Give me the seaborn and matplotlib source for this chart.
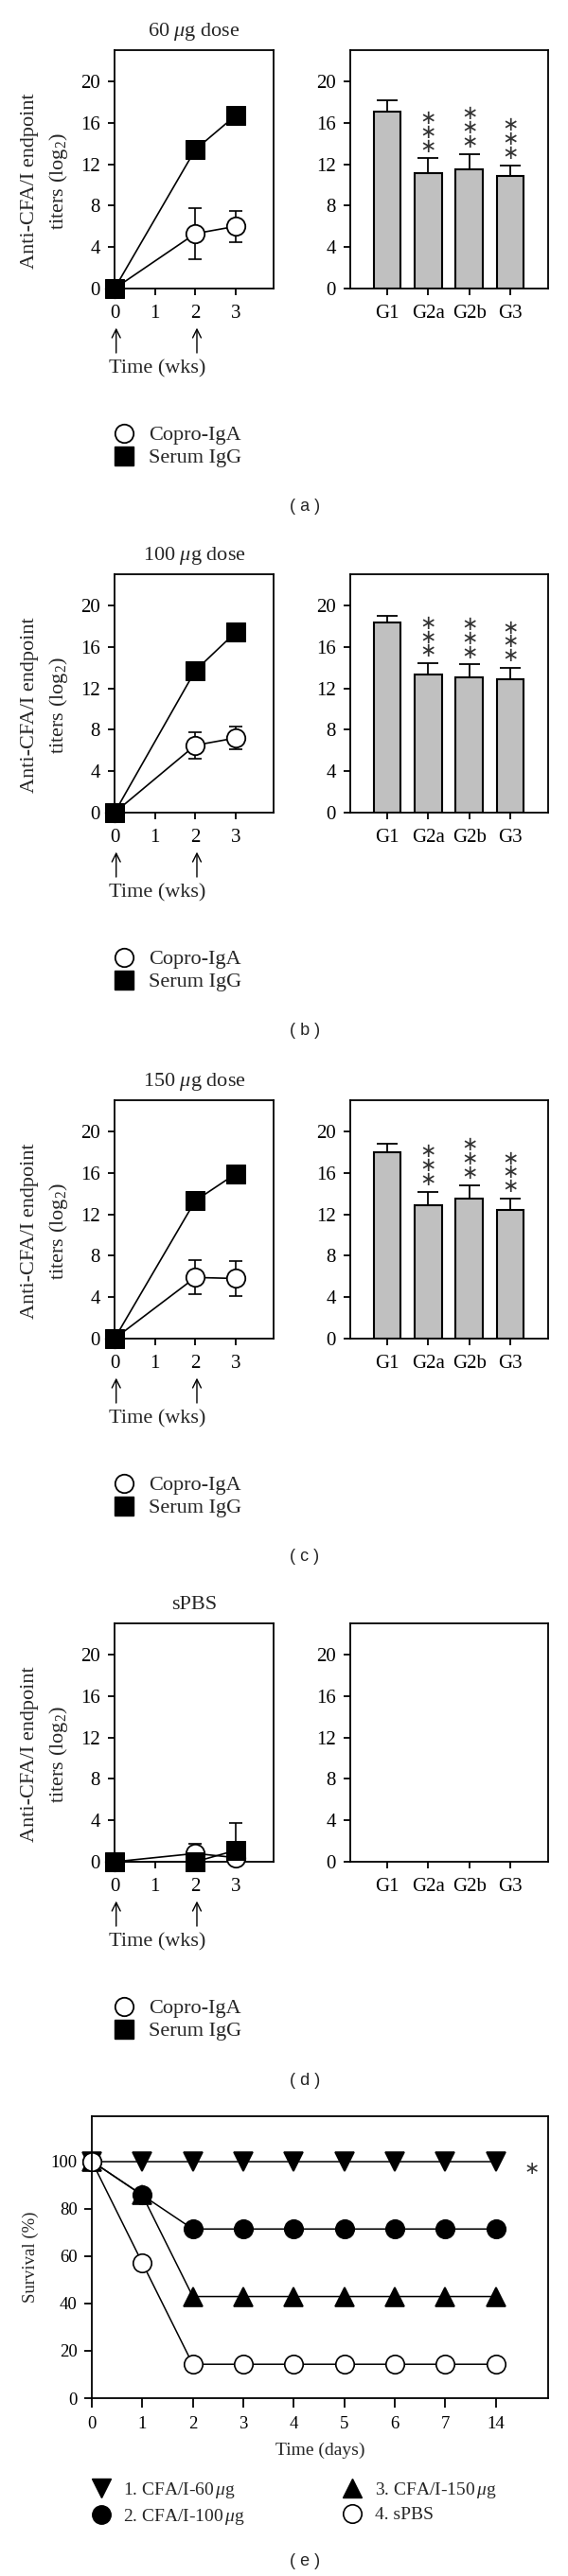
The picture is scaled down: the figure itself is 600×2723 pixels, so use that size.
import numpy as np
import pandas as pd
import seaborn as sns
from matplotlib import pyplot as plt
from matplotlib.lines import Line2D

## DATA ##
weeks = [0, 2, 3]
boost_weeks = [0, 2]
dose_titles = ['60 $\\mu$g dose', '100 $\\mu$g dose', '150 $\\mu$g dose', 'sPBS']
panel_tags = ['( a )', '( b )', '( c )', '( d )']

copro_mean = [[0, 5.3, 6.0], [0, 6.5, 7.2], [0, 5.9, 5.8], [0, 0.8, 0.4]]
copro_err = [[0, 2.5, 1.5], [0, 1.3, 1.1], [0, 1.65, 1.65], [0, 0.9, 0.5]]
serum_mean = [[0, 13.4, 16.7], [0, 13.7, 17.4], [0, 13.3, 15.9], [0, 0, 1.1]]
serum_err = [[0, 0, 0], [0, 0, 0], [0, 0, 0], [0, 0, 2.6]]

groups = ['G1', 'G2a', 'G2b', 'G3']
bar_mean = [[17.1, 11.1, 11.5, 10.9], [18.3, 13.3, 13.05, 12.9],
            [18.0, 12.85, 13.55, 12.4], None]
bar_err = [[1.1, 1.45, 1.5, 1.0], [0.65, 1.1, 1.25, 1.05],
           [0.8, 1.3, 1.25, 1.1], None]
stars = ['', '***', '***', '***']

days = ['0', '1', '2', '3', '4', '5', '6', '7', '14']
surv_60 = [100, 100, 100, 100, 100, 100, 100, 100, 100]
surv_100 = [100, 85.7, 71.4, 71.4, 71.4, 71.4, 71.4, 71.4, 71.4]
surv_150 = [100, 85.7, 42.9, 42.9, 42.9, 42.9, 42.9, 42.9, 42.9]
surv_pbs = [100, 57.1, 14.3, 14.3, 14.3, 14.3, 14.3, 14.3, 14.3]
surv_labels = ['1. CFA/I-60$\\,\\mu$g', '2. CFA/I-100$\\,\\mu$g',
               '3. CFA/I-150$\\,\\mu$g', '4. sPBS']

## SETTINGS ##
sns.set_theme(style='ticks')
plt.rcParams['font.family'] = ['Liberation Serif', 'DejaVu Serif']
plt.rcParams['mathtext.fontset'] = 'custom'
plt.rcParams['mathtext.rm'] = 'Liberation Serif'
plt.rcParams['mathtext.it'] = 'Liberation Serif:italic'
plt.rcParams['axes.linewidth'] = 1.3
plt.rcParams['axes.edgecolor'] = 'black'
plt.rcParams['xtick.color'] = 'black'
plt.rcParams['ytick.color'] = 'black'
plt.rcParams['xtick.major.width'] = 1.3
plt.rcParams['ytick.major.width'] = 1.3
plt.rcParams['xtick.major.size'] = 5
plt.rcParams['ytick.major.size'] = 5
plt.rcParams['xtick.major.pad'] = 7
plt.rcParams['ytick.major.pad'] = 6

W, H = 600, 2723
fig = plt.figure(figsize=(W / 100, H / 100), dpi=100)


def px_rect(x0, y0, x1, y1):
    return [x0 / W, 1 - y1 / H, (x1 - x0) / W, (y1 - y0) / H]


panel_offsets = [0, 554, 1110, 1663]
FS = 16
TS = 15

for i, off in enumerate(panel_offsets):
    axL = fig.add_axes(px_rect(121, 53 + off, 289, 305 + off))
    axR = fig.add_axes(px_rect(370, 53 + off, 579, 305 + off))

    # time course
    df_c = pd.DataFrame({'week': weeks, 'titer': copro_mean[i]})
    df_s = pd.DataFrame({'week': weeks, 'titer': serum_mean[i]})
    axL.errorbar(weeks, copro_mean[i], yerr=copro_err[i], fmt='none',
                 ecolor='black', elinewidth=1.2, capsize=5, capthick=1.2, zorder=2)
    axL.errorbar(weeks, serum_mean[i], yerr=serum_err[i], fmt='none',
                 ecolor='black', elinewidth=1.2, capsize=5, capthick=1.2, zorder=2)
    sns.lineplot(data=df_c, x='week', y='titer', ax=axL, color='black', lw=1.2,
                 marker='o', markersize=14, markerfacecolor='white',
                 markeredgecolor='black', markeredgewidth=1.3, clip_on=False, zorder=3)
    sns.lineplot(data=df_s, x='week', y='titer', ax=axL, color='black', lw=1.2,
                 marker='s', markersize=14, markerfacecolor='black',
                 markeredgecolor='black', clip_on=False, zorder=4)
    axL.set_xlim(0, 3.94)
    axL.set_ylim(0, 23)
    axL.set_xticks([0, 1, 2, 3])
    axL.set_yticks([0, 4, 8, 12, 16, 20])
    axL.tick_params(labelsize=TS)
    axL.set_xlabel('')
    axL.set_ylabel('Anti-CFA/I endpoint\ntiters (log$_2$)', fontsize=FS, linespacing=1.55)
    axL.yaxis.label.set_verticalalignment('center')
    axL.yaxis.set_label_coords(-0.435, 0.45)
    axL.text(0.5, 1.079, dose_titles[i], transform=axL.transAxes,
             ha='center', va='center', fontsize=FS)

    # immunization arrows
    for wk in boost_weeks:
        axL.annotate('', xy=(wk + 0.04, -0.165), xytext=(wk + 0.04, -0.27),
                     xycoords=('data', 'axes fraction'),
                     arrowprops=dict(arrowstyle='->', lw=1.0, color='black',
                                     mutation_scale=16, shrinkA=0, shrinkB=0))
    axL.text(-0.15, -0.337, 'Time (wks)', transform=axL.get_xaxis_transform(),
             ha='left', va='center', fontsize=FS)

    handles = [Line2D([], [], ls='none', marker='o', markersize=14, markerfacecolor='white',
                      markeredgecolor='black', markeredgewidth=1.3),
               Line2D([], [], ls='none', marker='s', markersize=14, color='black')]
    axL.legend(handles, ['Copro-IgA', 'Serum IgG'], loc='upper left',
               bbox_to_anchor=(-0.005, -0.575), frameon=False, fontsize=FS,
               handlelength=1.0, handletextpad=0.68, labelspacing=0.15,
               borderpad=0, borderaxespad=0)

    # bars
    if bar_mean[i] is not None:
        df_b = pd.DataFrame({'group': groups, 'titer': bar_mean[i]})
        sns.barplot(data=df_b, x='group', y='titer', ax=axR, color='#c0c0c0',
                    edgecolor='black', linewidth=1.5, width=0.66, saturation=1,
                    errorbar=None)
        axR.errorbar(range(len(groups)), bar_mean[i],
                     yerr=[np.zeros(len(groups)), bar_err[i]], fmt='none',
                     ecolor='black', elinewidth=1.3, capsize=8, capthick=1.3, zorder=3)
        for j, s in enumerate(stars):
            if s:
                axR.annotate('\n'.join('\u2217' * len(s)),
                             xy=(j, bar_mean[i][j] + bar_err[i][j]),
                             xytext=(0, 2), textcoords='offset points',
                             ha='center', va='bottom', fontsize=15, linespacing=0.68,
                             family='DejaVu Sans', color='#333333')
    axR.set_xticks(range(len(groups)))
    axR.set_xticklabels(groups)
    axR.set_xlim(-0.9, 3.92)
    axR.set_ylim(0, 23)
    axR.set_yticks([0, 4, 8, 12, 16, 20])
    axR.tick_params(labelsize=TS)
    axR.set_xlabel('')
    axR.set_ylabel('')

    fig.text(322 / W, 1 - (536 + off) / H, panel_tags[i], ha='center', va='center',
             fontsize=13, family='Liberation Sans')

# survival
axE = fig.add_axes(px_rect(97, 2237, 579, 2535))
pos = np.arange(len(days))
styles = [(surv_60, 'v', 'black', 15), (surv_150, '^', 'black', 15),
          (surv_100, 'o', 'black', 14), (surv_pbs, 'o', 'white', 14)]
for vals, mk, fc, ms in styles:
    df_e = pd.DataFrame({'day': pos, 'survival': vals})
    sns.lineplot(data=df_e, x='day', y='survival', ax=axE, color='black', lw=1.1,
                 marker=mk, markersize=ms, markerfacecolor=fc,
                 markeredgecolor='black', markeredgewidth=1.2, clip_on=False)
axE.set_xlim(0, 9.04)
axE.set_ylim(0, 119)
axE.set_xticks(pos)
axE.set_xticklabels(days)
axE.set_yticks([0, 20, 40, 60, 80, 100])
axE.tick_params(labelsize=13.5)
axE.tick_params(axis='y', pad=5, length=6)
axE.tick_params(axis='x', length=7)
axE.set_ylabel('Survival (%)', fontsize=13.5)
axE.yaxis.label.set_verticalalignment('center')
axE.yaxis.set_label_coords(-0.135, 0.5)
axE.set_xlabel('Time (days)', fontsize=14)
axE.xaxis.label.set_verticalalignment('center')
axE.xaxis.set_label_coords(0.5, -0.185)
axE.text(8.72, 97, '\u2217', ha='center', va='center', fontsize=14,
         family='DejaVu Sans', color='#333333')

e_handles = [Line2D([], [], ls='none', marker='v', markersize=15, color='black'),
             Line2D([], [], ls='none', marker='o', markersize=14, color='black'),
             Line2D([], [], ls='none', marker='^', markersize=15, color='black'),
             Line2D([], [], ls='none', marker='o', markersize=14, markerfacecolor='white',
                    markeredgecolor='black', markeredgewidth=1.2)]
axE.legend(e_handles, surv_labels, ncol=2, loc='upper left',
           bbox_to_anchor=(0.0, -0.292), frameon=False, fontsize=14,
           handlelength=1.0, handletextpad=0.72, labelspacing=0.35,
           columnspacing=5.3, borderpad=0, borderaxespad=0)

fig.text(322 / W, 1 - 2707 / H, '( e )', ha='center', va='center',
         fontsize=13, family='Liberation Sans')

fig.savefig('out.png', dpi=100)
